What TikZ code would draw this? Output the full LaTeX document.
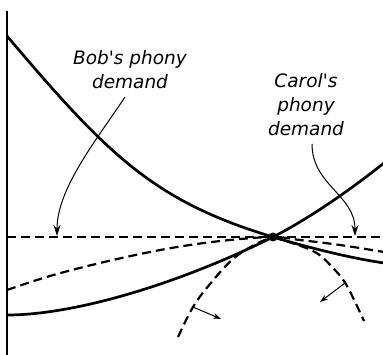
\documentclass[tikz,border=0pt]{standalone}
\usepackage{fontspec}
\newfontfamily\hand{DejaVu Sans}
\usetikzlibrary{arrows.meta}
\tikzset{
  curve/.style={line width=2.7pt},
  dcurve/.style={line width=2.2pt, dash pattern=on 9pt off 5pt},
  axisline/.style={line width=1.3pt},
  callout/.style={line width=1pt, -{Stealth[length=11pt,width=7pt]}},
  tick/.style={line width=1pt, -{Stealth[length=8pt,width=5.5pt]}},
  lab/.style={font=\hand\itshape\fontsize{18.5}{24}\selectfont, align=center, inner sep=0pt},
}
\begin{document}
\begin{tikzpicture}[x=1pt,y=-1pt]
\useasboundingbox (0,0) rectangle (383,355);
% axis
\coordinate (axtop) at (7,11);
\coordinate (axbot) at (7,356);
\draw[axisline] (axtop) -- (axbot);
% horizontal dashed line
\coordinate (h0) at (7,237);
\coordinate (h1) at (384,237);
\draw[dcurve] (h0) -- (h1);
% concave dashed curve
\draw[dcurve] plot[smooth, tension=0.6] coordinates {(7,290) (50,276) (100,263) (150,252) (190,245) (230,240) (273,237) (300,240) (340,245) (384,252)};
% equilibrium point
\node[circle, fill=black, inner sep=0pt, minimum size=9pt] (E) at (273,237) {};
% descending solid curve
\coordinate (d0) at (7,36);
\coordinate (d1) at (384,263);
\draw[curve] (d0) .. controls (107,154) and (153,201) .. (E.center)
                  .. controls (310,248) and (350,258) .. (d1);
% ascending solid curve
\coordinate (a0) at (7,315);
\coordinate (a1) at (384,163);
\draw[curve] (a0) .. controls (77,315) and (183,282) .. (E.center)
                  .. controls (310,218) and (350,190) .. (a1);
% dashed arcs
\draw[dcurve] plot[smooth, tension=0.6] coordinates {(178,337) (193,307) (210,284) (233,259) (256,244) (273,237)};
\draw[dcurve] plot[smooth, tension=0.6] coordinates {(273,237) (313,251) (333,268) (347,286) (364,321)};
% tick arrows
\coordinate (t1a) at (193,307);
\coordinate (t1b) at (221,319);
\draw[tick] (t1a) -- (t1b);
\coordinate (t2a) at (345,283);
\coordinate (t2b) at (320,302);
\draw[tick] (t2a) -- (t2b);
% labels
\node[lab] (bob) at (130,70) {Bob's phony\\demand};
\node[lab] (carol) at (306,105) {Carol's\\phony\\demand};
\coordinate (bobs) at (125,97);
\coordinate (bobe) at (57,236);
\draw[callout] (bobs) .. controls (98,138) and (57,188) .. (bobe);
\coordinate (cars) at (312,144);
\coordinate (care) at (355,236);
\draw[callout] (cars) .. controls (312,185) and (355,195) .. (care);
\end{tikzpicture}
\end{document}
